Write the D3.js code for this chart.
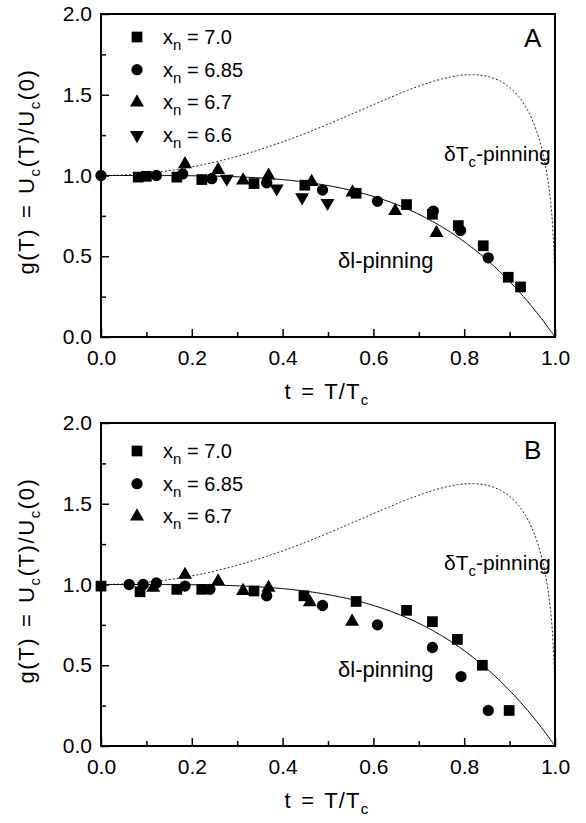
<!DOCTYPE html>
<meta charset="utf-8">
<style>
  body { margin: 0; background: #fff; }
  svg text { font-family: "Liberation Sans", Arial, Helvetica, sans-serif; fill: #000; }
</style>
<svg width="586" height="823"></svg>
<script src="https://d3js.org/d3.v7.min.js"></script>
<script>

    // ---- data: [t, g] ----
    var seriesNames = ["7.0", "6.85", "6.7", "6.6"];

    var a_x70 = [[0.082, 0.99], [0.100, 0.995], [0.167, 0.99], [0.222, 0.975], [0.337, 0.95],
        [0.449, 0.94], [0.562, 0.89], [0.673, 0.82], [0.730, 0.76], [0.787, 0.69],
        [0.842, 0.565], [0.897, 0.37], [0.924, 0.31]];
    var a_x685 = [[0.0, 1.0], [0.122, 1.0], [0.180, 1.01], [0.244, 0.98], [0.365, 0.955],
        [0.488, 0.91], [0.609, 0.84], [0.732, 0.78], [0.792, 0.66], [0.853, 0.49]];
    var a_x67 = [[0.185, 1.07], [0.258, 1.035], [0.313, 0.97], [0.369, 1.0], [0.464, 0.96],
        [0.554, 0.895], [0.648, 0.78], [0.739, 0.645]];
    var a_x66 = [[0.277, 0.98], [0.387, 0.92], [0.443, 0.865], [0.499, 0.83]];

    var b_x70 = [[0.0, 0.99], [0.086, 0.955], [0.167, 0.97], [0.222, 0.97], [0.337, 0.96],
        [0.447, 0.93], [0.562, 0.895], [0.673, 0.84], [0.730, 0.77], [0.785, 0.66],
        [0.840, 0.50], [0.899, 0.22]];
    var b_x685 = [[0.062, 1.0], [0.093, 1.0], [0.122, 1.01], [0.185, 0.99], [0.240, 0.97],
        [0.365, 0.93], [0.488, 0.87], [0.609, 0.75], [0.730, 0.61], [0.793, 0.43], [0.853, 0.22]];
    var b_x67 = [[0.115, 0.98], [0.185, 1.06], [0.258, 1.02], [0.313, 0.96], [0.369, 0.98],
        [0.460, 0.89], [0.553, 0.77]];

    // model curves g(t) = (1-t^2)^a (1+t^2)^b
    var deltaL = [1, 1];            // δl-pinning
    var deltaTc = [1 / 3, 5 / 3];   // δTc-pinning

    var xTicks = [0, 0.2, 0.4, 0.6, 0.8, 1.0];
    var xMinor = [0.1, 0.3, 0.5, 0.7, 0.9];
    var yTicks = [0, 0.5, 1.0, 1.5, 2.0];
    var yMinor = [0.25, 0.75, 1.25, 1.75];

    var svg = d3.select("svg");

    var symbols = [
        d3.symbol().type(d3.symbolSquare).size(115),
        d3.symbol().type(d3.symbolCircle).size(100),
        d3.symbol().type(d3.symbolTriangle).size(85),
        d3.symbol().type(d3.symbolTriangle).size(85)
    ];
    var rotations = [0, 0, 0, 180];

    function model(p) {
        var ts = d3.range(0, 0.99, 0.005).concat(d3.range(0.99, 1, 0.0005), [1]);
        return ts.map(function(t) {
            return [t, Math.pow(1 - t * t, p[0]) * Math.pow(1 + t * t, p[1])];
        });
    }

    function sub(t, txt) {
        t.append("tspan").attr("dy", 6).style("font-size", "15px").text(txt);
    }

    function drawPanel(top, bottom, letter, series, legendTop, letterDy) {
        var x = d3.scaleLinear().domain([0, 1]).range([101, 555]);
        var y = d3.scaleLinear().domain([0, 2]).range([bottom, top]);
        var g = svg.append("g");

        var line = d3.line()
            .x(function(d) { return x(d[0]); })
            .y(function(d) { return y(d[1]); });

        g.append("path").datum(model(deltaTc))
            .attr("d", line).attr("fill", "none")
            .attr("stroke", "#222").attr("stroke-width", 1)
            .attr("stroke-dasharray", "2,2");
        g.append("path").datum(model(deltaL))
            .attr("d", line).attr("fill", "none")
            .attr("stroke", "#000").attr("stroke-width", 1);

        // axes, ticks inward
        g.append("g").attr("transform", "translate(0," + bottom + ")")
            .call(d3.axisBottom(x).tickValues(xTicks).tickFormat(d3.format(".1f"))
                .tickSize(-8).tickPadding(13));
        g.append("g").attr("transform", "translate(0," + bottom + ")")
            .call(d3.axisBottom(x).tickValues(xMinor).tickFormat("").tickSize(-5));
        g.append("g").attr("transform", "translate(101,0)")
            .call(d3.axisLeft(y).tickValues(yTicks).tickFormat(d3.format(".1f"))
                .tickSize(-8).tickPadding(9));
        g.append("g").attr("transform", "translate(101,0)")
            .call(d3.axisLeft(y).tickValues(yMinor).tickFormat("").tickSize(-5));
        g.selectAll(".domain").remove();
        g.selectAll(".tick line").attr("stroke", "#000").attr("stroke-width", 1.5);
        g.selectAll(".tick text").style("font-size", "21px");

        g.append("rect")
            .attr("x", 101).attr("y", top)
            .attr("width", 454).attr("height", bottom - top)
            .attr("fill", "none").attr("stroke", "#000").attr("stroke-width", 2);

        // points
        series.forEach(function(s, i) {
            g.selectAll(null).data(s).enter().append("path")
                .attr("d", symbols[i])
                .attr("transform", function(d) {
                    return "translate(" + x(d[0]) + "," + y(d[1]) + ") rotate(" + rotations[i] + ")";
                })
                .attr("fill", "#000");
        });

        // legend
        series.forEach(function(s, i) {
            var ly0 = top + legendTop + i * 32.7;
            g.append("path").attr("d", symbols[i])
                .attr("transform", "translate(137," + ly0 + ") rotate(" + rotations[i] + ")")
                .attr("fill", "#000");
            var t = g.append("text").attr("x", 163).attr("y", ly0 + 7).style("font-size", "20px");
            t.append("tspan").text("x");
            sub(t, "n");
            t.append("tspan").attr("dy", -6).text(" = " + seriesNames[i]);
        });

        g.append("text").attr("x", 524).attr("y", top + letterDy)
            .style("font-size", "26px").text(letter);

        var tc = g.append("text").attr("x", 444).attr("y", y(1.09)).style("font-size", "21px");
        tc.append("tspan").text("δT");
        sub(tc, "c");
        tc.append("tspan").attr("dy", -6).text("-pinning");

        g.append("text").attr("x", 338).attr("y", y(0.43)).style("font-size", "22px")
            .text("δl-pinning");

        // axis titles
        var xt = g.append("text").attr("x", 327).attr("y", bottom + 62)
            .attr("text-anchor", "middle").style("font-size", "22px")
            .style("word-spacing", "2px").style("letter-spacing", "1.2px");
        xt.append("tspan").text("t = T/T");
        sub(xt, "c");

        var yt = g.append("text")
            .attr("transform", "translate(34," + (y(1) - 4) + ") rotate(-90)")
            .attr("text-anchor", "middle").style("font-size", "22px")
            .style("word-spacing", "2px").style("letter-spacing", "1.6px");
        yt.append("tspan").text("g(T) = U");
        sub(yt, "c");
        yt.append("tspan").attr("dy", -6).text("(T)/U");
        sub(yt, "c");
        yt.append("tspan").attr("dy", -6).text("(0)");
    }

    drawPanel(14, 337, "A", [a_x70, a_x685, a_x67, a_x66], 23, 33);
    drawPanel(423, 746, "B", [b_x70, b_x685, b_x67], 28, 36);
</script>
